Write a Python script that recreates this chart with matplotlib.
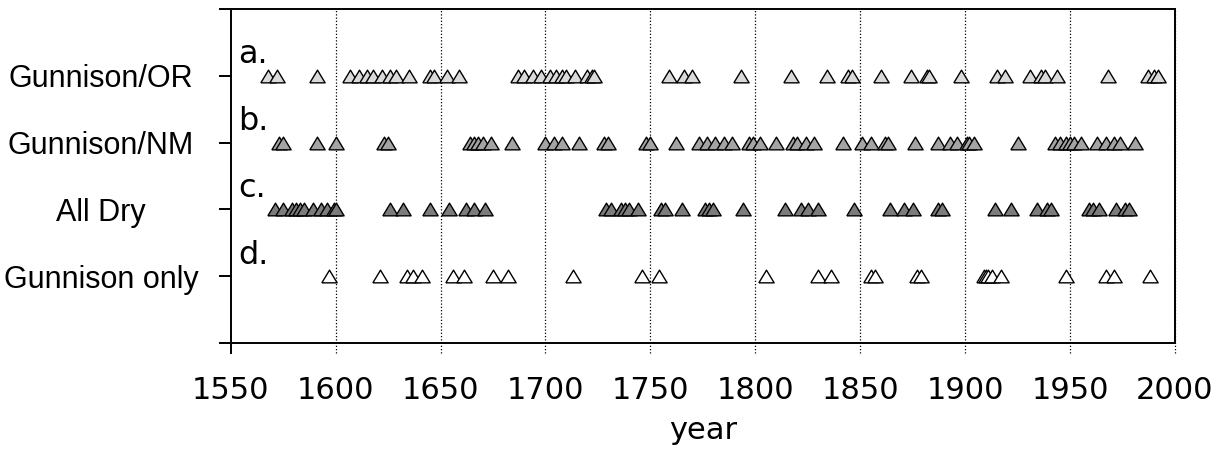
import matplotlib
matplotlib.use("Agg")
import matplotlib.pyplot as plt
from matplotlib.transforms import blended_transform_factory

# ---------------- data ----------------
years_or = [1568, 1572, 1591, 1607, 1611, 1615, 1618, 1622, 1626, 1629, 1635, 1645, 1647,
            1653, 1659, 1687, 1690, 1694, 1698, 1702, 1705, 1708, 1710, 1714, 1720, 1722,
            1723, 1759, 1766, 1770, 1793, 1817, 1834, 1844, 1846, 1860, 1874, 1882, 1883,
            1898, 1915, 1919, 1931, 1936, 1938, 1944, 1968, 1987, 1990, 1992]
years_nm = [1573, 1575, 1591, 1600, 1623, 1625, 1664, 1666, 1668, 1670, 1674, 1684, 1700,
            1704, 1708, 1716, 1728, 1730, 1748, 1750, 1762, 1773, 1777, 1781, 1785, 1789,
            1797, 1799, 1802, 1810, 1818, 1820, 1824, 1828, 1842, 1851, 1855, 1862, 1863,
            1876, 1887, 1893, 1896, 1901, 1902, 1904, 1925, 1943, 1945, 1948, 1950, 1952,
            1955, 1963, 1967, 1971, 1974, 1981]
years_dry = [1571, 1575, 1579, 1581, 1583, 1585, 1589, 1593, 1596, 1599, 1600, 1626, 1632,
             1645, 1654, 1662, 1666, 1671, 1729, 1731, 1736, 1738, 1740, 1744, 1755, 1757,
             1765, 1776, 1778, 1780, 1794, 1814, 1822, 1825, 1830, 1847, 1864, 1871, 1875,
             1887, 1889, 1914, 1922, 1934, 1939, 1941, 1959, 1961, 1964, 1972, 1976, 1978]
years_gonly = [1597, 1621, 1634, 1637, 1641, 1656, 1661, 1675, 1682, 1713, 1746, 1754,
               1805, 1830, 1836, 1855, 1857, 1877, 1879, 1909, 1910, 1911, 1913, 1917,
               1948, 1967, 1971, 1988]

series = [years_or, years_nm, years_dry, years_gonly]
row_levels = [4, 3, 2, 1]
row_letters = ["a.", "b.", "c.", "d."]
row_colors = ["#dadada", "#a4a4a4", "#7c7c7c", "#ffffff"]

ytick_pos = [0, 1, 2, 3, 4, 5]
ytick_labels = ["", "Gunnison only", "All Dry", "Gunnison/NM", "Gunnison/OR", ""]
xticks = [1550, 1600, 1650, 1700, 1750, 1800, 1850, 1900, 1950, 2000]

# ---------------- figure ----------------
W, H = 1219, 453
fig = plt.figure(figsize=(W / 100, H / 100), dpi=100)
ax = fig.add_axes([230.7 / W, 1 - 343 / H, (1175 - 230.7) / W, (343 - 9) / H])
ax.set_xlim(1550, 2000)
ax.set_ylim(0, 5)

tri = [(-1.0, -0.83), (1.0, -0.83), (0.0, 0.83), (-1.0, -0.83)]
for yrs, lvl, col in zip(series, row_levels, row_colors):
    for yv in yrs:
        ax.plot([yv], [lvl], linestyle="none", marker=tri, markersize=11,
                markerfacecolor=col, markeredgecolor="black", markeredgewidth=1.0,
                zorder=3)

for lvl, letter in zip(row_levels, row_letters):
    ax.text(1553.5, lvl + 0.19, letter, fontsize=23, family="DejaVu Sans",
            ha="left", va="baseline", zorder=4)

# dotted grid lines that continue below the axis as ticks
ext = 10 / 334
for xt in xticks[1:]:
    ax.axvline(xt, ymin=-ext, ymax=1, color="black", lw=0.9,
               linestyle=(0, (1, 1.6)), clip_on=False, zorder=1)
ax.axvline(xticks[0], ymin=-ext, ymax=0, color="black", lw=1.4, clip_on=False)

for s in ax.spines.values():
    s.set_linewidth(1.4)

ax.set_xticks(xticks)
ax.set_xticklabels([str(v) for v in xticks], fontsize=22, family="DejaVu Sans")
ax.tick_params(axis="x", length=0, pad=23.5)

ax.set_yticks(ytick_pos)
ax.set_yticklabels(ytick_labels, fontsize=22, family="Liberation Sans")
ax.tick_params(axis="y", direction="out", length=8.6, width=1.4, pad=84.7)
for lab in ax.get_yticklabels():
    lab.set_horizontalalignment("center")

ax.set_xlabel("year", fontsize=22, family="DejaVu Sans", labelpad=8)

fig.savefig("out.png", dpi=100)
